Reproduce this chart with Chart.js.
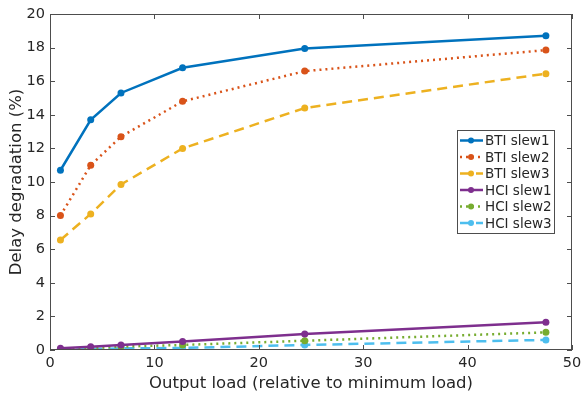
<!DOCTYPE html>
<html lang="en">
<head>
  <meta charset="UTF-8">
  <script src="https://cdn.jsdelivr.net/npm/chart.js"></script>
  <style>
    body { margin: 0; background: #fff; }
    #wrap { width: 581px; height: 396px; }
  </style>
</head>
<body>
  <div id="wrap"><canvas id="delayChart"></canvas></div>

  <script>
    // load points (relative to minimum load)
    const loads = [1, 3.9, 6.8, 12.7, 24.4, 47.5];

    const btiSlew1 = [10.7, 13.7, 15.3, 16.8, 17.95, 18.7];
    const btiSlew2 = [8.0, 11.0, 12.7, 14.8, 16.6, 17.85];
    const btiSlew3 = [6.55, 8.1, 9.85, 12.0, 14.4, 16.45];
    const hciSlew1 = [0.1, 0.2, 0.3, 0.5, 0.95, 1.65];
    const hciSlew2 = [0.02, 0.1, 0.2, 0.3, 0.55, 1.05];
    const hciSlew3 = [0.01, 0.05, 0.1, 0.12, 0.3, 0.6];

    const seriesNames = ['BTI slew1', 'BTI slew2', 'BTI slew3', 'HCI slew1', 'HCI slew2', 'HCI slew3'];
    const seriesValues = [btiSlew1, btiSlew2, btiSlew3, hciSlew1, hciSlew2, hciSlew3];
    const colors = ['#0072BD', '#D95319', '#EDB120', '#7E2F8E', '#77AC30', '#4DBEEE'];
    const dashes = [[], [2, 4], [10, 6], [], [2, 4], [10, 6]];

    const FONT = "'DejaVu Sans', sans-serif";
    const TXT = '#262626';

    const datasets = seriesNames.map((name, i) => ({
      label: name,
      data: loads.map((x, j) => ({ x: x, y: seriesValues[i][j] })),
      borderColor: colors[i],
      backgroundColor: colors[i],
      borderWidth: 2.5,
      borderDash: dashes[i],
      pointRadius: 3.5,
      pointBorderWidth: 0,
      pointHoverRadius: 3.5,
      tension: 0
    }));

    // box + inward ticks + legend, matlab style
    const matlabAxes = {
      id: 'matlabAxes',
      afterDraw(chart) {
        const ctx = chart.ctx;
        const a = chart.chartArea;
        const xs = chart.scales.x, ys = chart.scales.y;
        ctx.save();
        ctx.strokeStyle = '#4d4d4d';
        ctx.lineWidth = 1;
        ctx.strokeRect(a.left + 0.5, a.top + 0.5, a.right - a.left - 1, a.bottom - a.top - 1);
        ctx.beginPath();
        xs.ticks.forEach(t => {
          const px = Math.round(xs.getPixelForValue(t.value)) + 0.5;
          ctx.moveTo(px, a.bottom); ctx.lineTo(px, a.bottom - 5);
          ctx.moveTo(px, a.top); ctx.lineTo(px, a.top + 5);
        });
        ys.ticks.forEach(t => {
          const py = Math.round(ys.getPixelForValue(t.value)) + 0.5;
          ctx.moveTo(a.left, py); ctx.lineTo(a.left + 5, py);
          ctx.moveTo(a.right, py); ctx.lineTo(a.right - 5, py);
        });
        ctx.stroke();

        // legend
        const lx = 457, ly = 130, lw = 97, rowH = 16.5;
        const lh = rowH * chart.data.datasets.length + 4;
        ctx.fillStyle = '#fff';
        ctx.fillRect(lx, ly, lw, lh);
        ctx.strokeStyle = '#4d4d4d';
        ctx.strokeRect(lx + 0.5, ly + 0.5, lw, lh);
        ctx.font = '13.5px ' + FONT;
        ctx.textBaseline = 'middle';
        chart.data.datasets.forEach((ds, i) => {
          const cy = ly + 10.5 + i * rowH;
          ctx.strokeStyle = ds.borderColor;
          ctx.lineWidth = 2.5;
          ctx.setLineDash(ds.borderDash);
          ctx.beginPath();
          ctx.moveTo(460, cy); ctx.lineTo(483, cy);
          ctx.stroke();
          ctx.setLineDash([]);
          ctx.fillStyle = ds.borderColor;
          ctx.beginPath();
          ctx.arc(471, cy, 3, 0, Math.PI * 2);
          ctx.fill();
          ctx.fillStyle = TXT;
          ctx.textAlign = 'left';
          ctx.fillText(ds.label, 485, cy + 1);
        });
        ctx.restore();
      }
    };

    new Chart(document.getElementById('delayChart'), {
      type: 'line',
      data: { datasets: datasets },
      plugins: [matlabAxes],
      options: {
        responsive: true,
        maintainAspectRatio: false,
        animation: false,
        layout: { padding: { top: 14, right: 9, left: 0, bottom: 0 } },
        plugins: {
          legend: { display: false },
          tooltip: { enabled: false }
        },
        scales: {
          x: {
            type: 'linear',
            min: 0, max: 50,
            ticks: { stepSize: 10, color: TXT, font: { family: FONT, size: 14.5 }, padding: 5, maxRotation: 0 },
            grid: { display: false, drawTicks: false },
            border: { display: false },
            title: { display: true, text: 'Output load (relative to minimum load)', color: TXT, font: { family: FONT, size: 16.5 }, padding: { top: 0, bottom: 2 } },
            afterFit: s => { s.height = 46; s.paddingLeft = 0; s.paddingRight = 0; }
          },
          y: {
            min: 0, max: 20,
            ticks: { stepSize: 2, color: TXT, font: { family: FONT, size: 14.5 }, padding: 5 },
            grid: { display: false, drawTicks: false },
            border: { display: false },
            title: { display: true, text: 'Delay degradation (%)', color: TXT, font: { family: FONT, size: 16.5 }, padding: { top: 7, bottom: 0 } },
            afterFit: s => { s.width = 50; s.paddingTop = 0; s.paddingBottom = 0; }
          }
        }
      }
    });
  </script>
</body>
</html>
